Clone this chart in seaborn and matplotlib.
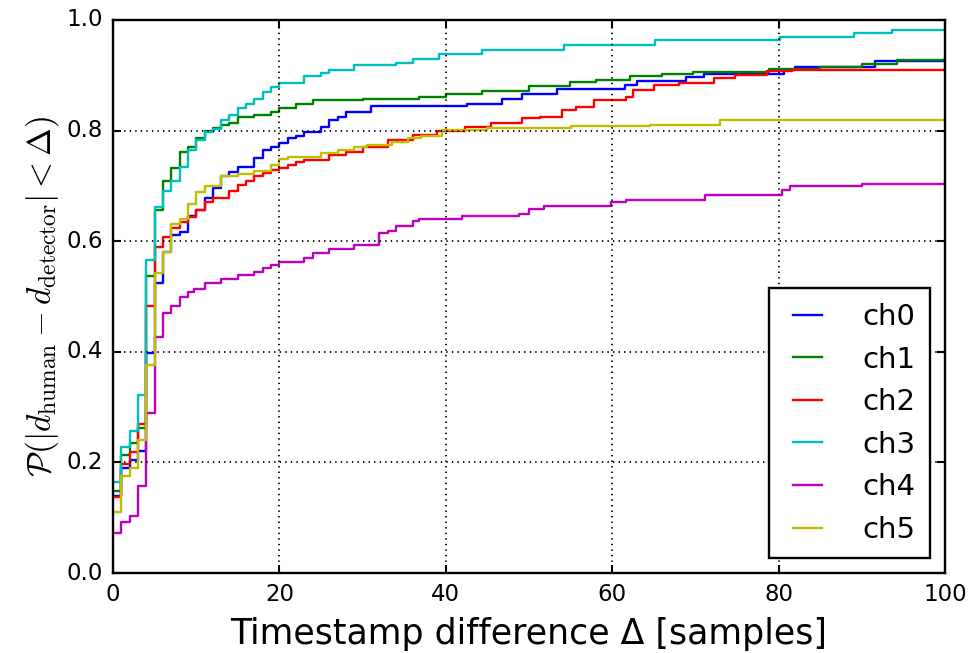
import matplotlib
matplotlib.use("Agg")
import matplotlib.pyplot as plt
import seaborn as sns
import pandas as pd

# ---- data ----
channels = ["ch0", "ch1", "ch2", "ch3", "ch4", "ch5"]

ch0_x = [0, 1, 2, 3, 4, 5, 6, 7, 8, 9, 10, 11, 12, 13, 14, 15, 17, 18, 19, 20, 21, 22, 23, 25, 26, 27, 28,
         31, 42.6, 46.7, 49.2, 53.4, 61.5, 63, 68.9, 71, 80.6, 82, 91.6, 100]
ch0_y = [0.14, 0.19, 0.205, 0.22, 0.397, 0.525, 0.58, 0.611, 0.617, 0.645, 0.656, 0.678, 0.696, 0.717, 0.726,
         0.735, 0.75, 0.765, 0.771, 0.777, 0.786, 0.79, 0.798, 0.807, 0.819, 0.825, 0.834,
         0.845, 0.849, 0.858, 0.867, 0.876, 0.882, 0.890, 0.897, 0.902, 0.909, 0.915, 0.925, 0.928]

ch1_x = [0, 1, 2, 3, 4, 5, 6, 7, 8, 9, 10, 11, 12, 13, 14, 15, 17, 19, 20, 22, 24, 30, 36.8, 40, 44.3, 50,
         54.9, 58, 62.1, 66, 69.7, 78.8, 85, 90, 94.2, 100]
ch1_y = [0.149, 0.213, 0.235, 0.263, 0.537, 0.656, 0.708, 0.732, 0.762, 0.771, 0.786, 0.800, 0.805, 0.811,
         0.814, 0.825, 0.829, 0.834, 0.840, 0.849, 0.855, 0.857, 0.861, 0.866, 0.872, 0.880,
         0.887, 0.892, 0.899, 0.902, 0.906, 0.911, 0.915, 0.920, 0.928, 0.932]

ch2_x = [0, 1, 2, 3, 4, 5, 6, 7, 8, 9, 10, 11, 12, 14, 15, 16, 17, 18, 19, 20, 21, 22, 23, 26, 28, 30, 33,
         36, 38.9, 42.3, 45.4, 49.2, 51.3, 54, 55.6, 57.8, 61.6, 62.5, 65, 68, 72.2, 74.8, 78.6, 81.6, 100]
ch2_y = [0.138, 0.198, 0.218, 0.27, 0.482, 0.59, 0.608, 0.623, 0.635, 0.644, 0.656, 0.671, 0.678, 0.690,
         0.702, 0.709, 0.718, 0.723, 0.729, 0.732, 0.738, 0.744, 0.747, 0.756, 0.762, 0.771, 0.783,
         0.792, 0.800, 0.806, 0.814, 0.822, 0.825, 0.837, 0.843, 0.855, 0.860, 0.873, 0.882, 0.886,
         0.895, 0.900, 0.907, 0.910, 0.911]

ch3_x = [0, 1, 2, 3, 4, 5, 6, 7, 8, 9, 10, 11, 12, 13, 14, 15, 16, 17, 18, 19, 20, 23, 25, 26, 29, 34, 36,
         39.2, 44.3, 54.2, 65.1, 80.2, 89.1, 93.6, 100]
ch3_y = [0.165, 0.228, 0.257, 0.322, 0.566, 0.661, 0.690, 0.708, 0.735, 0.765, 0.783, 0.798, 0.802, 0.819,
         0.828, 0.840, 0.849, 0.858, 0.870, 0.879, 0.886, 0.899, 0.905, 0.909, 0.919, 0.923, 0.930,
         0.939, 0.946, 0.955, 0.963, 0.969, 0.976, 0.982, 0.983]

ch4_x = [0, 1, 2, 3, 4, 5, 6, 7, 8, 9, 9.7, 11, 13, 15, 17, 18, 19, 20, 23, 24, 26, 29, 32, 33, 34, 36,
         36.8, 42, 48.8, 50, 51.8, 59.8, 61.6, 71.2, 80.4, 81.4, 90, 100]
ch4_y = [0.072, 0.093, 0.103, 0.158, 0.29, 0.427, 0.47, 0.482, 0.50, 0.509, 0.513, 0.524, 0.531, 0.539,
         0.545, 0.551, 0.557, 0.562, 0.569, 0.578, 0.585, 0.593, 0.614, 0.619, 0.627, 0.637,
         0.640, 0.645, 0.650, 0.658, 0.664, 0.670, 0.674, 0.683, 0.692, 0.699, 0.704, 0.708]

ch5_x = [0, 1, 2, 3, 4, 5, 6, 7, 8, 9, 10, 11, 13, 15, 17, 19, 20, 21, 25, 27, 29, 30.5, 33.5, 35.5, 37,
         39.5, 45, 55, 64.5, 73, 100]
ch5_y = [0.110, 0.175, 0.19, 0.241, 0.376, 0.543, 0.58, 0.631, 0.641, 0.667, 0.689, 0.699, 0.717, 0.722,
         0.727, 0.738, 0.748, 0.753, 0.759, 0.765, 0.770, 0.774, 0.780, 0.786, 0.790,
         0.801, 0.805, 0.808, 0.810, 0.819, 0.823]

x_ticks = [0, 20, 40, 60, 80, 100]
y_ticks = [0.0, 0.2, 0.4, 0.6, 0.8, 1.0]
x_label = "Timestamp difference Δ [samples]"
y_label = r"$\mathcal{P}(|d_{\mathrm{human}} - d_{\mathrm{detector}}| < \Delta)$"

# ---- build long table ----
xs_all = [ch0_x, ch1_x, ch2_x, ch3_x, ch4_x, ch5_x]
ys_all = [ch0_y, ch1_y, ch2_y, ch3_y, ch4_y, ch5_y]
rows = []
for name, xs, ys in zip(channels, xs_all, ys_all):
    for xv, yv in zip(xs, ys):
        rows.append({"delta": xv, "prob": yv, "channel": name})
df = pd.DataFrame(rows)

# ---- style ----
plt.style.use("classic")
plt.rcParams.update({
    "figure.facecolor": "white",
    "savefig.facecolor": "white",
    "font.family": ["DejaVu Sans"],
    "mathtext.fontset": "cm",
    "axes.linewidth": 1.7,
    "xtick.major.size": 6,
    "ytick.major.size": 6,
    "xtick.major.width": 1.5,
    "ytick.major.width": 1.5,
    "xtick.labelsize": 16.5,
    "ytick.labelsize": 16.5,
})

palette = {"ch0": (0, 0, 1), "ch1": (0, 0.5, 0), "ch2": (1, 0, 0),
           "ch3": (0, 0.75, 0.75), "ch4": (0.75, 0, 0.75), "ch5": (0.75, 0.75, 0)}

fig = plt.figure(figsize=(9.8, 6.53), dpi=100)
ax = fig.add_axes([113 / 980, 1 - 573 / 653, (945 - 113) / 980, (573 - 20) / 653])

sns.lineplot(data=df, x="delta", y="prob", hue="channel", hue_order=channels, palette=palette,
             estimator=None, drawstyle="steps-post", linewidth=1.7, ax=ax, legend=True)

ax.set_xlim(0, 100)
ax.set_ylim(0, 1.0)
ax.set_xticks(x_ticks)
ax.set_yticks(y_ticks)
ax.set_xticklabels([str(t) for t in x_ticks])
ax.set_yticklabels([f"{t:.1f}" for t in y_ticks])
ax.tick_params(direction="in", top=True, right=True, pad=7)
ax.grid(True, linestyle=":", color="k", linewidth=1.3)
ax.set_axisbelow(False)

ax.set_xlabel(x_label, fontsize=25, labelpad=8)
ax.set_ylabel(y_label, fontsize=24, labelpad=4)

handles, labels = ax.get_legend_handles_labels()
leg = ax.legend(handles, labels, loc="lower right", fontsize=21, frameon=True, fancybox=False,
                handlelength=1.6, handletextpad=1.1, labelspacing=0.5, borderpad=0.5,
                borderaxespad=0.5)
leg.get_frame().set_edgecolor("black")
leg.get_frame().set_linewidth(1.7)
for h in leg.get_lines():
    h.set_linewidth(1.7)

fig.savefig("out.png", dpi=100)
